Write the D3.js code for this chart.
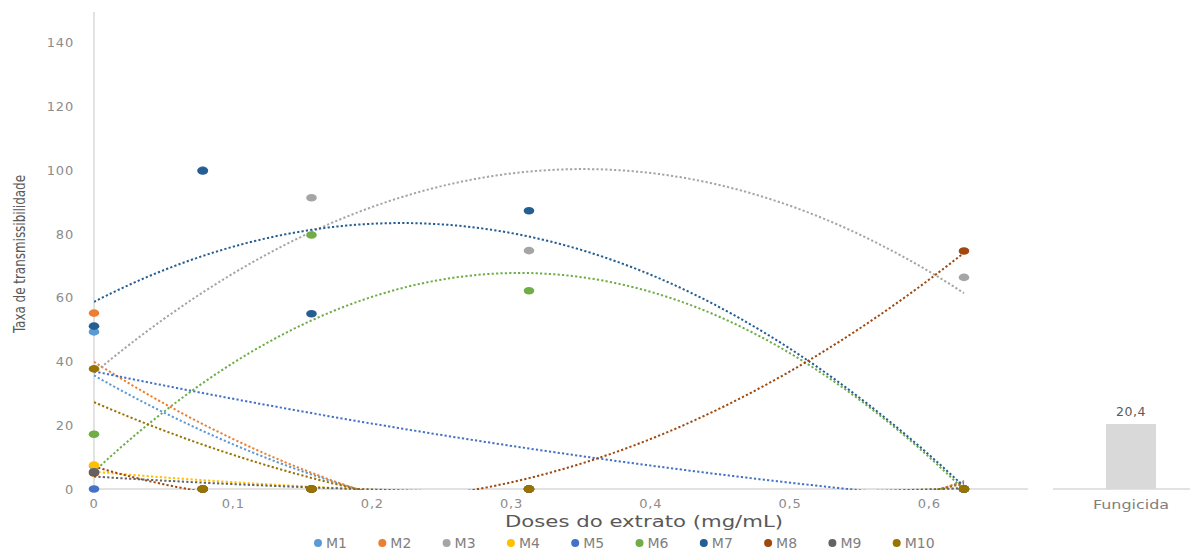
<!DOCTYPE html>
<html><head><meta charset="utf-8">
<script src="https://cdn.jsdelivr.net/npm/d3@7"></script>
<style>html,body{margin:0;padding:0;background:#fff;} svg{display:block;}</style>
</head><body>
<svg id="chart" width="1190" height="553"></svg>
<script>
// ---- data ----
const doses = [0, 0.078125, 0.15625, 0.3125, 0.625];
const seriesNames = ["M1","M2","M3","M4","M5","M6","M7","M8","M9","M10"];
const M1 = [49.3, 0, 0, 0, 0];
const M2 = [55.2, 0, 0, 0, 0];
const M3 = [7.2, 100, 91.4, 74.8, 66.4];
const M4 = [7.5, 0, 0, 0, 0];
const M5 = [0, 100, 0, 0, 0];
const M6 = [17.2, 0, 79.7, 62.2, 0];
const M7 = [51.1, 99.8, 55.0, 87.3, 0];
const M8 = [5.0, 0, 0, 0, 74.7];
const M9 = [5.4, 0, 0, 0, 0];
const M10 = [37.7, 0, 0, 0, 0];
const seriesValues = [M1,M2,M3,M4,M5,M6,M7,M8,M9,M10];
const colors = ["#5B9BD5","#ED7D31","#A5A5A5","#FFC000","#4472C4","#70AD47","#255E91","#9E480E","#636363","#997300"];
const yTicks = [0,20,40,60,80,100,120,140];
const xTicks = [0,0.1,0.2,0.3,0.4,0.5,0.6];
const barCategories = ["Fungicida"];
const barValues = [20.4];

// ---- layout ----
const svg = d3.select("#chart");
const x = d3.scaleLinear().domain([0, 0.671]).range([94, 1028]);
const y = d3.scaleLinear().domain([0, 150]).range([489, 11]);
const fmt = v => String(v).replace(".", ",");

// quadratic least-squares trendline (polynomial trendline, order 2)
function polyfit2(xs, ys){
  const S = k => d3.sum(xs, v => Math.pow(v, k));
  const T = k => d3.sum(xs.map((v,i)=>Math.pow(v,k)*ys[i]));
  const A = [[S(0),S(1),S(2),T(0)],[S(1),S(2),S(3),T(1)],[S(2),S(3),S(4),T(2)]];
  for (let i=0;i<3;i++){
    let p=i; for(let r=i+1;r<3;r++) if(Math.abs(A[r][i])>Math.abs(A[p][i])) p=r;
    [A[i],A[p]]=[A[p],A[i]];
    for(let r=0;r<3;r++){ if(r===i) continue; const f=A[r][i]/A[i][i]; for(let c=i;c<4;c++) A[r][c]-=f*A[i][c]; }
  }
  return [A[0][3]/A[0][0], A[1][3]/A[1][1], A[2][3]/A[2][2]];
}

svg.append("clipPath").attr("id","plotclip").append("rect")
  .attr("x", 94).attr("y", 0).attr("width", 1028-94).attr("height", 490);

// axes lines
svg.append("line").attr("x1",94).attr("x2",1028).attr("y1",y(0)).attr("y2",y(0))
  .attr("stroke","#d9d9d9").attr("stroke-width",1.5);
svg.append("line").attr("x1",94).attr("x2",94).attr("y1",12).attr("y2",y(0))
  .attr("stroke","#d9d9d9").attr("stroke-width",1.5);

// y tick labels
svg.append("g").selectAll("text").data(yTicks).join("text")
  .attr("x", 74).attr("y", d => y(d)).attr("dy","0.35em")
  .attr("text-anchor","end").attr("font-family","DejaVu Sans").attr("font-size",13)
  .attr("letter-spacing","0.8px").attr("fill","#8c8c8c").text(d => d);

// x tick labels
svg.append("g").selectAll("text").data(xTicks).join("text")
  .attr("x", d => x(d)).attr("y", 503).attr("dy","0.35em")
  .attr("text-anchor","middle").attr("font-family","DejaVu Sans").attr("font-size",13)
  .attr("letter-spacing","0.8px").attr("fill","#8c8c8c").text(d => fmt(d));

// axis titles
svg.append("text").attr("x", 644).attr("y", 522).attr("dy","0.35em")
  .attr("text-anchor","middle").attr("font-family","DejaVu Sans").attr("font-size",15)
  .attr("fill","#595959").attr("textLength",278).attr("lengthAdjust","spacingAndGlyphs")
  .text("Doses do extrato (mg/mL)");
svg.append("text").attr("transform","translate(19,254) rotate(-90)").attr("dy","0.35em")
  .attr("text-anchor","middle").attr("font-family","DejaVu Sans Condensed, DejaVu Sans").attr("font-size",16)
  .attr("fill","#595959").attr("textLength",158).attr("lengthAdjust","spacingAndGlyphs")
  .text("Taxa de transmissibilidade");

// trendlines
const gTrend = svg.append("g").attr("clip-path","url(#plotclip)");
const samples = d3.range(0, 201).map(i => doses[doses.length-1]*i/200);
seriesValues.forEach((vals, si) => {
  const [c,b,a] = polyfit2(doses, vals);
  const pts = samples.map(d => [d, c + b*d + a*d*d]);
  gTrend.append("path").datum(pts)
    .attr("d", d3.line().x(p => x(p[0])).y(p => y(p[1])))
    .attr("fill","none").attr("stroke", colors[si]).attr("stroke-width",2)
    .attr("stroke-dasharray","2.2,2.2");
});

// points
const gPts = svg.append("g");
seriesValues.forEach((vals, si) => {
  gPts.append("g").selectAll("ellipse").data(vals).join("ellipse")
    .attr("cx", (v,i) => x(doses[i])).attr("cy", v => y(v))
    .attr("rx", 5.3).attr("ry", 3.8).attr("fill", colors[si]);
});

// Fungicida bar panel
const xb = d3.scaleBand().domain(barCategories).range([1053, 1209]).paddingInner(0.5145).paddingOuter(0.5145);
svg.append("line").attr("x1",1053).attr("x2",1190).attr("y1",y(0)).attr("y2",y(0))
  .attr("stroke","#d9d9d9").attr("stroke-width",1.5);
svg.append("g").selectAll("rect").data(barValues).join("rect")
  .attr("x",(v,i)=>xb(barCategories[i])).attr("width", xb.bandwidth())
  .attr("y", v => y(v)).attr("height", v => y(0)-y(v)).attr("fill","#d9d9d9");
svg.append("g").selectAll("text").data(barValues).join("text")
  .attr("x",(v,i)=>xb(barCategories[i])+xb.bandwidth()/2).attr("y", v => y(v)-12).attr("dy","0.35em")
  .attr("text-anchor","middle").attr("font-family","DejaVu Sans").attr("font-size",12.5)
  .attr("letter-spacing","0.6px").attr("fill","#595959").text(v => fmt(v));
svg.append("g").selectAll("text").data(barCategories).join("text")
  .attr("x", d => xb(d)+xb.bandwidth()/2).attr("y", 505).attr("dy","0.35em")
  .attr("text-anchor","middle").attr("font-family","DejaVu Sans").attr("font-size",12)
  .attr("fill","#7f7f7f").attr("textLength",76).attr("lengthAdjust","spacingAndGlyphs").text(d => d);

// legend
const legend = svg.append("g");
const legStart = 318, legStep = 64.3;
seriesNames.forEach((name, i) => {
  const g = legend.append("g").attr("transform", `translate(${legStart + i*legStep},543)`);
  g.append("circle").attr("r",4).attr("fill",colors[i]);
  g.append("text").attr("x",8).attr("dy","0.35em").attr("font-family","DejaVu Sans")
    .attr("font-size",14).attr("fill","#7f7f7f").text(name);
});
</script>
</body></html>
